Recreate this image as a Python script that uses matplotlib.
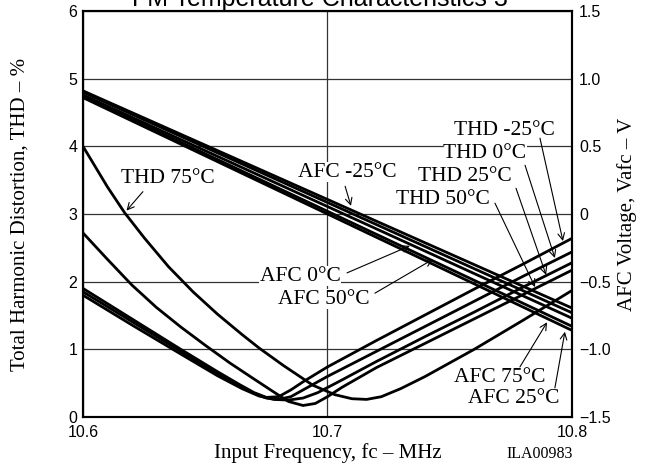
import matplotlib
matplotlib.use("Agg")
import matplotlib.pyplot as plt

# ---- data (freq in MHz, THD in %, AFC in V) ----
thd_m25_f = [10.600, 10.620, 10.640, 10.655, 10.664, 10.670, 10.675, 10.680,
             10.685, 10.690, 10.700, 10.720, 10.740, 10.760, 10.780, 10.800]
thd_m25 = [1.90, 1.45, 1.00, 0.67, 0.48, 0.36, 0.29, 0.30,
           0.40, 0.52, 0.74, 1.13, 1.51, 1.89, 2.26, 2.64]

thd_0_f = [10.600, 10.620, 10.640, 10.655, 10.664, 10.670, 10.675, 10.680,
           10.685, 10.690, 10.700, 10.720, 10.740, 10.760, 10.780, 10.800]
thd_0 = [1.85, 1.41, 0.97, 0.64, 0.46, 0.35, 0.28, 0.26,
         0.30, 0.40, 0.60, 0.97, 1.34, 1.71, 2.08, 2.44]

thd_25_f = [10.600, 10.620, 10.640, 10.655, 10.665, 10.672, 10.678, 10.684,
            10.690, 10.696, 10.705, 10.720, 10.740, 10.760, 10.780, 10.800]
thd_25 = [1.80, 1.36, 0.93, 0.61, 0.42, 0.31, 0.26, 0.25,
          0.28, 0.36, 0.53, 0.82, 1.19, 1.55, 1.92, 2.28]

thd_50_f = [10.600, 10.610, 10.620, 10.630, 10.640, 10.650, 10.660, 10.670,
            10.678, 10.684, 10.690, 10.695, 10.700, 10.706, 10.720, 10.740,
            10.760, 10.780, 10.800]
thd_50 = [2.72, 2.33, 1.95, 1.62, 1.33, 1.06, 0.80, 0.56,
          0.37, 0.23, 0.17, 0.20, 0.30, 0.44, 0.73, 1.09,
          1.45, 1.81, 2.17]

thd_75_f = [10.600, 10.610, 10.617, 10.625, 10.635, 10.645, 10.655, 10.665,
            10.672, 10.682, 10.694, 10.703, 10.710, 10.716, 10.722, 10.730,
            10.740, 10.760, 10.780, 10.800]
thd_75 = [4.00, 3.40, 3.02, 2.65, 2.22, 1.85, 1.52, 1.22,
          1.02, 0.76, 0.47, 0.33, 0.27, 0.26, 0.30, 0.42,
          0.60, 1.00, 1.43, 1.87]

afc_f = [10.6, 10.8]
afc_m25 = [0.91, -0.695]
afc_0 = [0.90, -0.73]
afc_25 = [0.86, -0.86]
afc_50 = [0.88, -0.77]
afc_75 = [0.87, -0.83]

x_ticks = [10.6, 10.7, 10.8]
thd_ticks = [0, 1, 2, 3, 4, 5, 6]
afc_ticks = [-1.5, -1.0, -0.5, 0, 0.5, 1.0, 1.5]
afc_tick_labels = ["\u22121.5", "\u22121.0", "\u22120.5", "0", "0.5", "1.0", "1.5"]

SERIF = "Liberation Serif"
SANS = "Liberation Sans"

fig = plt.figure(figsize=(6.6, 4.68), dpi=100)
ax = fig.add_axes([83 / 660, 1 - 417 / 468, 489 / 660, 406 / 468])
ax.set_xlim(10.6, 10.8)
ax.set_ylim(0, 6)
ax.set_xticks(x_ticks)
ax.set_xticklabels([f"{v:.1f}" for v in x_ticks], family=SANS, fontsize=11.5)
ax.set_yticks(thd_ticks)
ax.set_yticklabels([str(v) for v in thd_ticks], family=SANS, fontsize=11.5)
ax.tick_params(axis="y", length=0, pad=4)
ax.tick_params(axis="x", length=0, pad=6)
ax.grid(True, color="#333333", lw=0.9)
for s in ax.spines.values():
    s.set_linewidth(1.5)

ax2 = ax.twinx()
ax2.set_ylim(-1.5, 1.5)
ax2.set_yticks(afc_ticks)
ax2.set_yticklabels(afc_tick_labels, family=SANS, fontsize=11.5)
ax2.tick_params(length=0, pad=5)
for s in ax2.spines.values():
    s.set_linewidth(1.5)

lw = 2.0
for f, v in [(thd_m25_f, thd_m25), (thd_0_f, thd_0), (thd_25_f, thd_25),
             (thd_50_f, thd_50), (thd_75_f, thd_75)]:
    ax.plot(f, v, color="black", lw=lw, solid_capstyle="butt")
for v in [afc_m25, afc_0, afc_25, afc_50, afc_75]:
    ax2.plot(afc_f, v, color="black", lw=lw, solid_capstyle="butt")

# labels + arrows, all in THD/frequency coordinates
labels = [
    ("THD 75\u00b0C", (10.6348, 3.53), (10.6245, 3.33), (10.6178, 3.05)),
    ("AFC -25\u00b0C", (10.708, 3.62), (10.7072, 3.41), (10.7096, 3.12)),
    ("THD -25\u00b0C", (10.7722, 4.24), (10.7869, 4.12), (10.7963, 2.60)),
    ("THD 0\u00b0C", (10.7644, 3.90), (10.7808, 3.72), (10.7930, 2.35)),
    ("THD 25\u00b0C", (10.7562, 3.55), (10.7771, 3.38), (10.7894, 2.10)),
    ("THD 50\u00b0C", (10.7472, 3.21), (10.7685, 3.16), (10.7849, 1.92)),
    ("AFC 0\u00b0C", (10.6888, 2.08), (10.7080, 2.13), (10.7337, 2.53)),
    ("AFC 50\u00b0C", (10.6986, 1.74), (10.7194, 1.83), (10.7431, 2.33)),
    ("AFC 75\u00b0C", (10.7706, 0.59), (10.7787, 0.74), (10.7898, 1.40)),
    ("AFC 25\u00b0C", (10.7763, 0.27), (10.7930, 0.43), (10.7971, 1.26)),
]
for txt, pos, tail, head in labels:
    ax2.text(pos[0], pos[1], txt, transform=ax.transData, ha="center", va="center",
             family=SERIF, fontsize=15.5,
             bbox=dict(facecolor="white", edgecolor="none", pad=0.5))
    ax2.annotate("", xy=head, xytext=tail, xycoords=ax.transData, textcoords=ax.transData,
                 arrowprops=dict(arrowstyle="->", lw=0.8, color="black",
                                 shrinkA=0, shrinkB=0, mutation_scale=12))

fig.text(328 / 660, 1 - 453 / 468, "Input Frequency, fc \u2013 MHz", family=SERIF,
         fontsize=15, ha="center", va="center")
fig.text(20 / 660, 1 - 214 / 468, "Total Harmonic Distortion, THD \u2013 %", family=SERIF,
         fontsize=15, ha="center", va="center", rotation=90)
fig.text(627 / 660, 1 - 214 / 468, "AFC Voltage, Vafc \u2013 V", family=SERIF,
         fontsize=15, ha="center", va="center", rotation=90)
fig.text(540 / 660, 1 - 454 / 468, "ILA00983", family=SERIF, fontsize=11.5,
         ha="center", va="center")
fig.text(320 / 660, 1 - 6 / 468, "FM Temperature Characteristics 3", family=SANS,
         fontsize=18, ha="center", va="baseline")

fig.savefig("out.png", dpi=100)
